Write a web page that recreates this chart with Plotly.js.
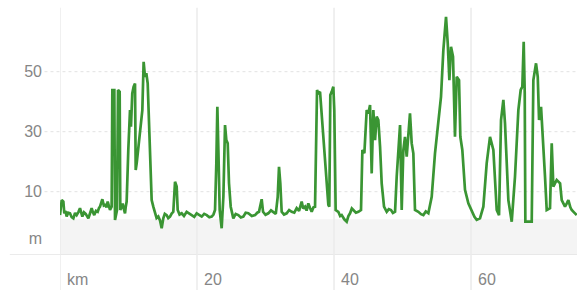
<!DOCTYPE html>
<html>
<head>
<meta charset="utf-8">
<script src="https://cdn.plot.ly/plotly-3.0.1.min.js"></script>
<style>html,body{margin:0;padding:0;background:#fff;}#chart{width:577px;height:290px;}</style>
</head>
<body>
<div id="chart"></div>
<script>
// distance along route (km)
const distanceKm = [
 0,0.25,0.49,0.63,0.8,0.97,1.2,1.46,1.7,1.95,2.2,2.43,2.7,2.92,3.26,3.5,3.75,3.95,4.14,4.4,4.62,4.8,5.0,5.25,5.5,5.7,5.84,6.0,6.18,6.4,6.57,6.8,6.96,7.15,7.3,7.54,
 7.64,7.93,8.03,8.32,8.47,8.71,8.8,8.98,9.15,9.3,9.49,9.6,9.73,9.97,10.22,10.36,10.55,10.75,10.95,11.05,11.2,
 12.02,12.21,12.41,12.6,12.8,12.95,13.14,13.38,13.62,13.87,14.1,14.35,14.6,14.84,15.08,15.3,15.57,15.8,16.06,16.3,16.54,
 16.79,17.03,17.18,17.45,17.76,18.1,18.49,18.85,19.22,19.6,19.95,20.3,20.69,21.05,21.42,21.8,22.15,22.4,22.63,22.82,22.97,23.12,23.31,23.6,
 23.85,24.09,24.28,24.48,24.67,24.92,25.3,25.65,26.03,26.4,26.76,27.1,27.49,28.0,28.47,28.8,29.05,29.44,29.64,30.0,30.41,30.8,31.14,
 31.5,31.78,31.97,32.16,32.36,32.7,33.09,33.45,33.82,34.2,34.55,34.9,35.28,35.5,35.77,36.0,36.25,36.5,36.74,37.0,37.23,37.52,37.71,37.96,39.17,
 39.31,39.46,39.66,39.9,40.04,40.24,40.63,40.9,41.12,41.5,41.85,42.1,42.34,42.6,42.82,43.2,43.55,43.94,44.14,44.43,44.77,
 45.01,45.26,45.5,45.74,45.99,46.23,46.47,46.72,46.96,47.3,47.69,48.0,48.32,48.6,48.91,49.15,49.39,49.64,
 49.88,50.12,50.36,50.61,51.09,51.34,51.58,51.82,52.31,52.7,53.04,53.4,53.77,54.26,54.74,55.23,55.62,55.96,
 56.35,56.6,56.84,57.08,57.37,57.66,57.91,58.25,58.44,58.73,59.12,59.61,60.1,60.5,60.83,61.31,61.8,
 62.29,62.77,63.26,63.75,64.09,64.38,64.72,64.96,65.21,65.45,65.94,66.42,66.91,67.25,67.49,67.69,
 67.84,67.93,68.37,68.86,69.1,69.49,69.74,69.93,70.22,70.56,70.8,71.05,71.53,71.78,72.02,72.51,
 73.0,73.24,73.72,74.0,74.21,74.5,74.7,75.0,75.43
];
// elevation (m)
const elevationM = [
 2.2,7.2,6.7,2.8,3.6,1.7,3.0,2.8,1.5,1.1,2.9,2.2,3.3,4.5,1.7,3.1,2.6,1.8,1.1,2.9,4.5,3.2,2.2,3.6,3.3,4.6,5.0,6.2,7.5,5.4,5.6,4.8,6.7,5.1,3.9,5.0,
 43.9,43.9,0.6,3.9,43.9,43.3,3.9,4.9,6.1,4.4,2.8,5.0,6.7,23.9,37.2,31.7,42.8,45.0,46.1,17.2,19.5,
 37.2,53.3,48.3,49.5,46.1,33.9,18.3,7.2,5.0,2.8,1.2,1.7,0.4,-2.2,1.1,2.6,2.2,1.2,1.7,2.7,3.3,
 13.3,11.7,3.9,2.4,2.8,1.9,3.3,2.6,2.2,1.6,2.8,2.3,1.7,2.6,2.2,1.5,1.7,2.4,3.9,19.5,38.3,23.9,3.9,-2.2,
 8.3,32.2,27.2,26.1,12.8,5.0,1.1,2.6,2.2,1.4,1.7,3.0,2.8,1.9,2.2,3.0,3.3,7.5,3.3,2.3,2.8,3.8,3.3,
 2.6,8.3,18.3,12.8,3.3,2.4,2.8,3.9,3.3,3.0,4.5,3.6,6.7,4.4,5.0,3.7,6.1,4.6,3.3,4.8,5.0,43.9,42.8,43.3,5.6,
 5.0,42.2,43.3,45.0,37.2,3.9,3.3,1.9,2.2,0.8,0.0,1.9,2.8,4.4,3.9,3.0,3.3,3.9,23.9,22.8,37.2,
 36.1,38.9,16.1,37.2,27.2,35.0,33.9,25.0,12.8,5.0,3.3,4.2,3.9,2.9,3.3,15.0,23.9,32.2,
 3.9,23.9,28.3,21.7,36.1,26.1,22.8,3.9,3.3,2.5,2.2,3.4,2.8,8.3,22.8,32.8,41.7,57.2,
 68.3,59.5,47.2,58.3,55.0,28.3,48.3,47.2,28.3,23.9,10.6,6.1,3.3,1.6,0.6,1.1,5.0,
 19.5,28.3,23.9,3.9,2.2,33.9,40.6,32.8,20.6,7.2,0.0,15.0,37.2,43.9,45.0,60.0,
 42.8,0.0,0.0,0.0,47.2,52.8,48.3,33.9,38.3,26.1,15.0,3.9,4.5,26.1,11.7,13.9,
 12.8,7.2,5.0,6.2,7.2,4.8,3.9,3.2,2.2
];
const xTickVals = [0, 20, 40, 60];
const xTickText = ['km', '20', '40', '60'];
const yTickVals = [-5.4, 10, 30, 50];
const yTickText = ['m', '10', '30', '50'];
const yGridVals = [10, 30, 50];

const yMin = -11.1, yMax = 73.9, xMax = 75.47;
const shapes = [
  {type:'rect', layer:'below', xref:'paper', yref:'y', x0:0, x1:1, y0:yMin, y1:0.8,
   fillcolor:'#f4f4f4', line:{width:0}},
  {type:'line', layer:'below', xref:'paper', yref:'y', x0:-0.097, x1:1, y0:yMin, y1:yMin,
   line:{color:'#e4e4e4', width:1.5}}
];
xTickVals.forEach(v => shapes.push({type:'line', layer:'below', xref:'x', yref:'paper',
  x0:v, x1:v, y0:-0.137, y1:0.97, line:{color:'#ebebeb', width:1.5}}));
yGridVals.forEach(v => shapes.push({type:'line', layer:'below', xref:'paper', yref:'y',
  x0:-0.03, x1:1, y0:v, y1:v, line:{color:'#e2e2e2', width:1, dash:'dot'}}));

const trace = {
  x: distanceKm, y: elevationM, type:'scatter', mode:'lines',
  line:{color:'#3a9533', width:2.7}, hoverinfo:'skip'
};
const layout = {
  width:577, height:290,
  margin:{l:60, r:0, t:0, b:35},
  paper_bgcolor:'#ffffff', plot_bgcolor:'rgba(0,0,0,0)',
  showlegend:false,
  font:{family:'"Liberation Sans", Arial, sans-serif', size:16, color:'#868686'},
  xaxis:{range:[0, xMax], tickmode:'array', tickvals:xTickVals, ticktext:xTickText,
    showgrid:false, zeroline:false, showline:false, ticks:'',
    ticklabelposition:'outside right', ticklabelshift:7, ticklabelstandoff:13, fixedrange:true},
  yaxis:{range:[yMin, yMax], tickmode:'array', tickvals:yTickVals, ticktext:yTickText,
    showgrid:false, zeroline:false, showline:false, ticks:'', ticklabelstandoff:17, fixedrange:true},
  shapes: shapes
};
Plotly.newPlot('chart', [trace], layout, {staticPlot:true, displayModeBar:false});
</script>
</body>
</html>
